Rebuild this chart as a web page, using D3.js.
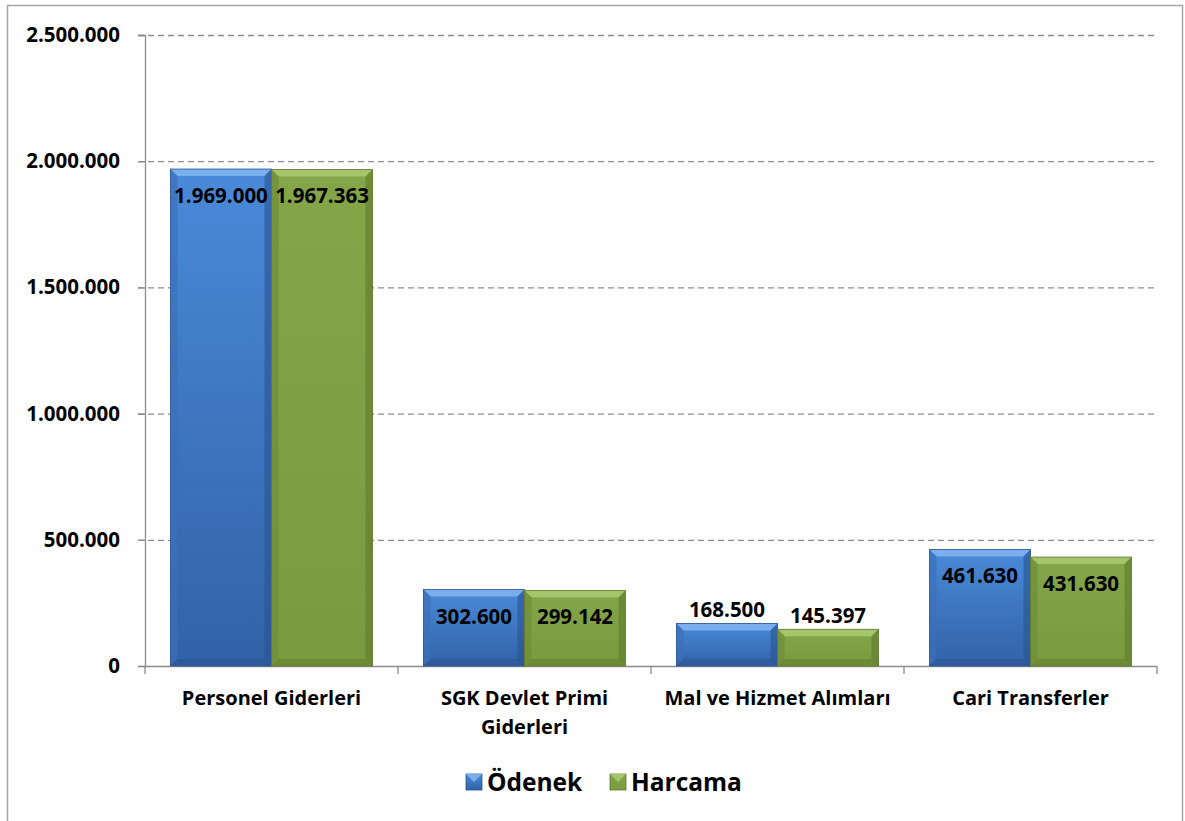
<!DOCTYPE html>
<html lang="tr">
<head>
<meta charset="utf-8">
<script src="https://d3js.org/d3.v7.min.js"></script>
<style>
  body { margin: 0; background: #fff; }
  svg { font-family: "Open Sans", "Liberation Sans", sans-serif; font-weight: bold; }
</style>
</head>
<body>
<div id="chart"></div>
<script>
// data
var categories = [["Personel Giderleri"], ["SGK Devlet Primi", "Giderleri"], ["Mal ve Hizmet Alımları"], ["Cari Transferler"]];
var odenek  = [1969000, 302600, 168500, 461630];
var harcama = [1967363, 299142, 145397, 431630];
var seriesNames = ["Ödenek", "Harcama"];
var yTicks = [0, 500000, 1000000, 1500000, 2000000, 2500000];
// labels placed above the bar instead of inside (short bars)
var outsideLabel = [false, false, true, false];

var W = 1185, H = 821;
var margin = {top: 35, left: 145, right: 28, bottom: 155};
var width = W - margin.left - margin.right,
    height = H - margin.top - margin.bottom;

var svg = d3.select("#chart").append("svg")
    .attr("width", W).attr("height", H);

// outer frame
svg.append("rect")
    .attr("x", 7.5).attr("y", 5.5)
    .attr("width", 1175).attr("height", 840)
    .attr("fill", "none").attr("stroke", "#a6a6a6").attr("stroke-width", 1.5);

var defs = svg.append("defs");
function grad(id, c1, c2) {
  var g = defs.append("linearGradient").attr("id", id)
      .attr("x1", 0).attr("y1", 0).attr("x2", 0).attr("y2", 1);
  g.append("stop").attr("offset", "0%").attr("stop-color", c1);
  g.append("stop").attr("offset", "100%").attr("stop-color", c2);
}
grad("gBlue", "#4a8ad9", "#3162a6");
grad("gGreen", "#84a548", "#7a9a40");

var palette = [
  {fill: "url(#gBlue)", light: "#7fb2ee", dark: "#2a5390", side: "#3a70b8"},
  {fill: "url(#gGreen)", light: "#a9c870", dark: "#5f7a2c", side: "#6f8d36"}
];

var g = svg.append("g")
    .attr("transform", "translate(" + margin.left + "," + margin.top + ")");

var x0 = d3.scaleBand().domain(d3.range(categories.length)).range([0, width]).paddingInner(0).paddingOuter(0);
var x1 = d3.scaleBand().domain([0, 1]).range([0, x0.bandwidth()]).paddingOuter(0.252).paddingInner(0);
var y = d3.scaleLinear().domain([0, 2500000]).range([height, 0]);

var fmt = function(v) { return d3.format(",")(v).replace(/,/g, "."); };

// gridlines
g.append("g").selectAll("line")
  .data(yTicks.filter(function(d) { return d > 0; }))
  .enter().append("line")
    .attr("x1", -7).attr("x2", width)
    .attr("y1", function(d) { return y(d) + 0.5; })
    .attr("y2", function(d) { return y(d) + 0.5; })
    .attr("stroke", "#8c8c8c").attr("stroke-width", 1.3)
    .attr("stroke-dasharray", "6,4");

// y axis
var yAxis = g.append("g")
    .call(d3.axisLeft(y).tickValues(yTicks).tickSize(7).tickPadding(18).tickFormat(fmt));
yAxis.select(".domain").attr("stroke", "#8c8c8c").attr("stroke-width", 1.3);
yAxis.selectAll(".tick line").attr("stroke", "#8c8c8c").attr("stroke-width", 1.3);
yAxis.selectAll("text").attr("font-size", 20.5).attr("font-weight", "bold")
    .attr("fill", "#000").attr("font-family", "Open Sans, sans-serif");

// x axis
var xAxisG = g.append("g").attr("transform", "translate(0," + height + ")");
xAxisG.append("line").attr("x1", 0).attr("x2", width).attr("y1", 0.5).attr("y2", 0.5)
    .attr("stroke", "#8c8c8c").attr("stroke-width", 1.3);
xAxisG.selectAll(".tk").data(d3.range(categories.length + 1)).enter().append("line")
    .attr("x1", function(d) { return d * x0.bandwidth(); })
    .attr("x2", function(d) { return d * x0.bandwidth(); })
    .attr("y1", 0).attr("y2", 8)
    .attr("stroke", "#8c8c8c").attr("stroke-width", 1.3);
xAxisG.selectAll(".cat").data(categories).enter().append("text")
    .attr("text-anchor", "middle")
    .attr("font-size", 20)
    .attr("transform", function(d, i) { return "translate(" + (x0(i) + x0.bandwidth() / 2) + ",39)"; })
    .each(function(d) {
      var t = d3.select(this);
      d.forEach(function(line, k) {
        t.append("tspan").attr("x", 0).attr("dy", k === 0 ? 0 : 29).text(line);
      });
    });

// bars with a bevel look
var rows = [];
categories.forEach(function(c, i) {
  [odenek[i], harcama[i]].forEach(function(v, s) {
    rows.push({cat: i, s: s, v: v});
  });
});

var bev = 7;
var bars = g.append("g").selectAll("g.bar").data(rows).enter().append("g").attr("class", "bar");
bars.each(function(d) {
  var bx = x0(d.cat) + x1(d.s), bw = x1.bandwidth();
  var by = y(d.v), bh = y(0) - y(d.v);
  var p = palette[d.s];
  var sel = d3.select(this);
  sel.append("rect").attr("x", bx).attr("y", by).attr("width", bw).attr("height", bh)
      .attr("fill", p.fill);
  var b = Math.min(bev, bh / 2);
  // top bevel
  sel.append("polygon").attr("points", [[bx, by], [bx + bw, by], [bx + bw - b, by + b], [bx + b, by + b]].join(" "))
      .attr("fill", p.light).attr("opacity", 0.9);
  // left bevel
  sel.append("polygon").attr("points", [[bx, by], [bx + b, by + b], [bx + b, by + bh - b], [bx, by + bh]].join(" "))
      .attr("fill", p.side).attr("opacity", 0.7);
  // right bevel
  sel.append("polygon").attr("points", [[bx + bw, by], [bx + bw - b, by + b], [bx + bw - b, by + bh - b], [bx + bw, by + bh]].join(" "))
      .attr("fill", p.dark).attr("opacity", 0.6);
  // bottom bevel
  sel.append("polygon").attr("points", [[bx, by + bh], [bx + b, by + bh - b], [bx + bw - b, by + bh - b], [bx + bw, by + bh]].join(" "))
      .attr("fill", p.dark).attr("opacity", 0.5);
  sel.append("rect").attr("x", bx).attr("y", by).attr("width", bw).attr("height", bh)
      .attr("fill", "none").attr("stroke", p.dark).attr("stroke-width", 0.8);

  // value label
  var out = outsideLabel[d.cat];
  sel.append("text")
      .attr("x", bx + bw / 2)
      .attr("y", out ? by - 6 : by + 34)
      .attr("text-anchor", "middle")
      .attr("font-size", 20.5)
      .attr("fill", "#000")
      .text(fmt(d.v));
});

// legend
var legend = svg.append("g").attr("transform", "translate(0,782)");
var legX = [466, 610];
seriesNames.forEach(function(name, s) {
  var p = palette[s];
  var lg = legend.append("g").attr("transform", "translate(" + legX[s] + ",0)");
  lg.append("rect").attr("x", 0).attr("y", -8).attr("width", 16).attr("height", 16).attr("fill", p.fill)
      .attr("stroke", p.dark).attr("stroke-width", 0.8);
  lg.append("polygon").attr("points", "0,-8 16,-8 8,0").attr("fill", p.light).attr("opacity", 0.9);
  lg.append("text").attr("x", 21).attr("y", 9).attr("font-size", 24.5).attr("fill", "#000").text(name);
});
</script>
</body>
</html>
